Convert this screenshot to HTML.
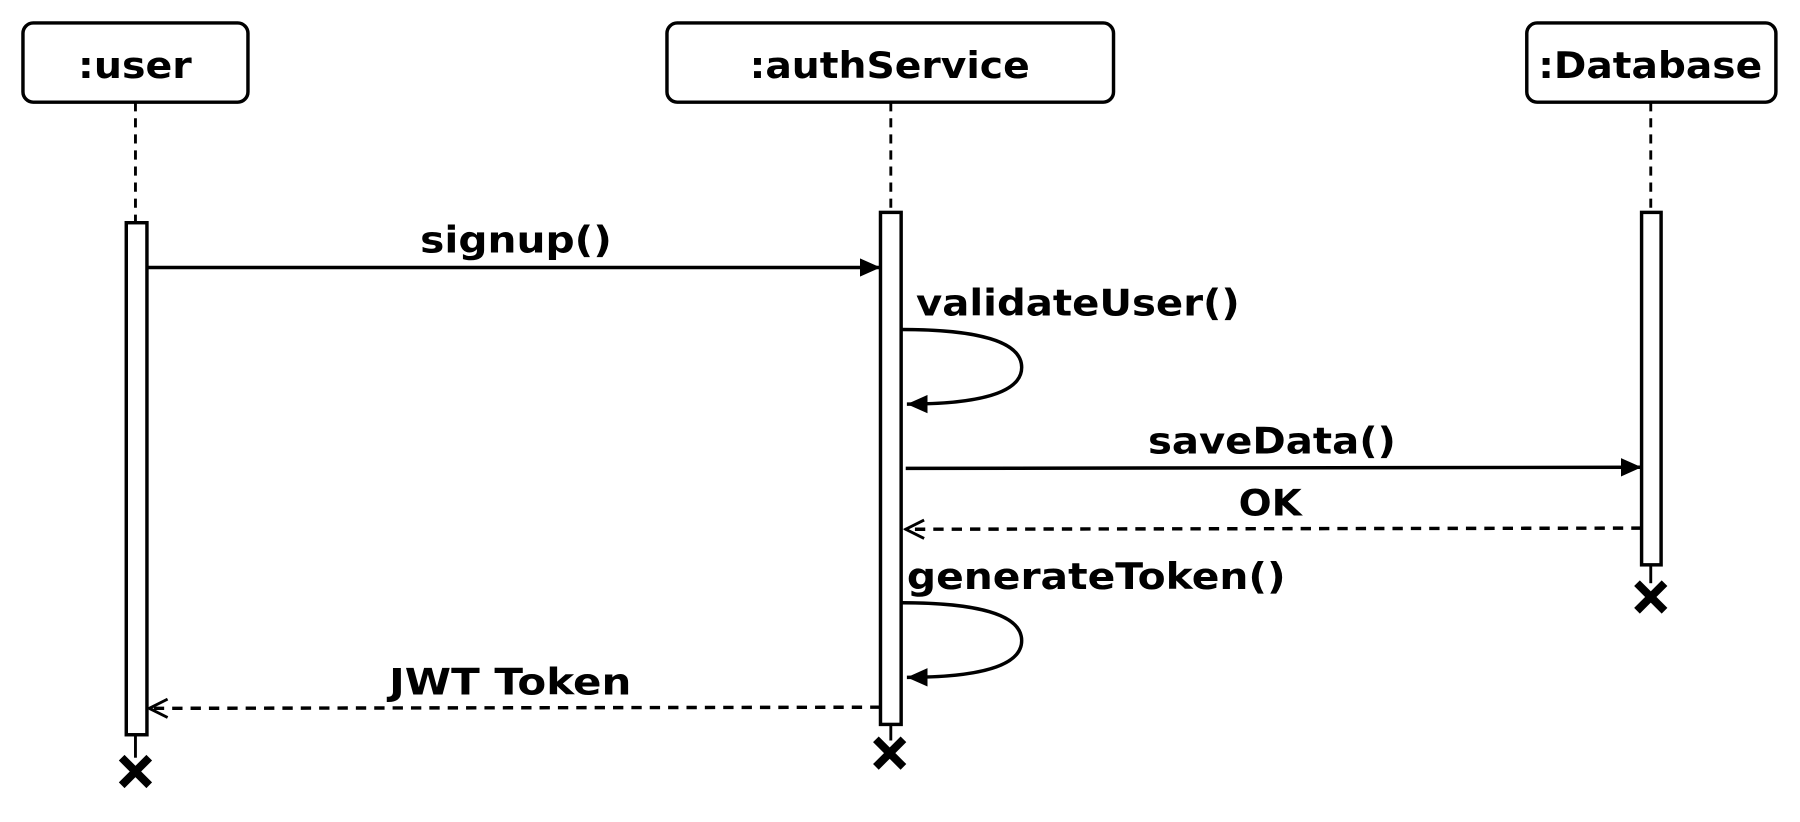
<!DOCTYPE html>
<html><head><style>html,body{margin:0;padding:0;background:#fff;}svg{display:block;}</style></head>
<body>
<svg width="1800" height="822" viewBox="0 0 1568 716" preserveAspectRatio="none" xmlns="http://www.w3.org/2000/svg">
<defs>
<marker id="f" markerWidth="20" markerHeight="16" refX="18" refY="8" orient="auto" markerUnits="userSpaceOnUse"><path d="M0,0 L18,8 L0,16 z" fill="#000"/></marker>
<marker id="o" markerWidth="20" markerHeight="20" refX="18" refY="10" orient="auto" markerUnits="userSpaceOnUse"><path d="M2,2 L18,10 L2,18" fill="none" stroke="#000" stroke-width="2.5"/></marker>
</defs>
<g fill="#fff" stroke="#000" stroke-width="3">
<rect x="20" y="20" width="196" height="69" rx="9"/>
<rect x="581" y="20" width="389" height="69" rx="9"/>
<rect x="1330" y="20" width="217" height="69" rx="9"/>
</g>
<g stroke="#000" stroke-width="2.5" stroke-dasharray="8,6" fill="none">
<line x1="118" y1="89" x2="118" y2="193"/>
<line x1="776" y1="89" x2="776" y2="185"/>
<line x1="1438" y1="89" x2="1438" y2="185"/>
</g>
<g stroke="#000" stroke-width="2.5" fill="none">
<line x1="118" y1="640" x2="118" y2="660"/>
<line x1="776" y1="631" x2="776" y2="645"/>
<line x1="1438" y1="492" x2="1438" y2="508"/>
</g>
<g fill="#fff" stroke="#000" stroke-width="3">
<rect x="110" y="194" width="18" height="446"/>
<rect x="767" y="185" width="18" height="446"/>
<rect x="1430" y="185" width="17" height="307"/>
</g>
<g stroke="#000" stroke-width="7" stroke-linecap="butt">
<path d="M106,660 L130,684 M130,660 L106,684"/>
<path d="M763,644 L787,668 M787,644 L763,668"/>
<path d="M1426,508 L1450,532 M1450,508 L1426,532"/>
</g>
<g stroke="#000" stroke-width="3" fill="none">
<line x1="128" y1="233" x2="767" y2="233" marker-end="url(#f)"/>
<path d="M785,287 C850,287 890,297 890,320 C890,343 850,352 790,352" marker-end="url(#f)"/>
<line x1="789" y1="408" x2="1430" y2="407" marker-end="url(#f)"/>
<line x1="1430" y1="460" x2="789" y2="461" stroke-dasharray="9,7" marker-end="url(#o)"/>
<path d="M785,525 C850,525 890,535 890,558 C890,581 850,590 790,590" marker-end="url(#f)"/>
<line x1="767" y1="616" x2="130" y2="617" stroke-dasharray="9,7" marker-end="url(#o)"/>
</g>
<g font-family="'DejaVu Sans','Liberation Sans',sans-serif" font-weight="bold" font-size="32" fill="#000" lengthAdjust="spacingAndGlyphs">
<text x="68" y="68" textLength="99" lengthAdjust="spacingAndGlyphs">:user</text>
<text x="653" y="68" textLength="244" lengthAdjust="spacingAndGlyphs">:authService</text>
<text x="1340" y="68" textLength="195" lengthAdjust="spacingAndGlyphs">:Database</text>
<text x="366" y="220" textLength="167" lengthAdjust="spacingAndGlyphs">signup()</text>
<text x="798" y="275" textLength="282" lengthAdjust="spacingAndGlyphs">validateUser()</text>
<text x="1000" y="395" textLength="216" lengthAdjust="spacingAndGlyphs">saveData()</text>
<text x="1079" y="449" textLength="55" lengthAdjust="spacingAndGlyphs">OK</text>
<text x="790" y="513" textLength="330" lengthAdjust="spacingAndGlyphs">generateToken()</text>
<text x="339" y="605" textLength="211" lengthAdjust="spacingAndGlyphs">JWT Token</text>
</g>
</svg>
</body></html>
